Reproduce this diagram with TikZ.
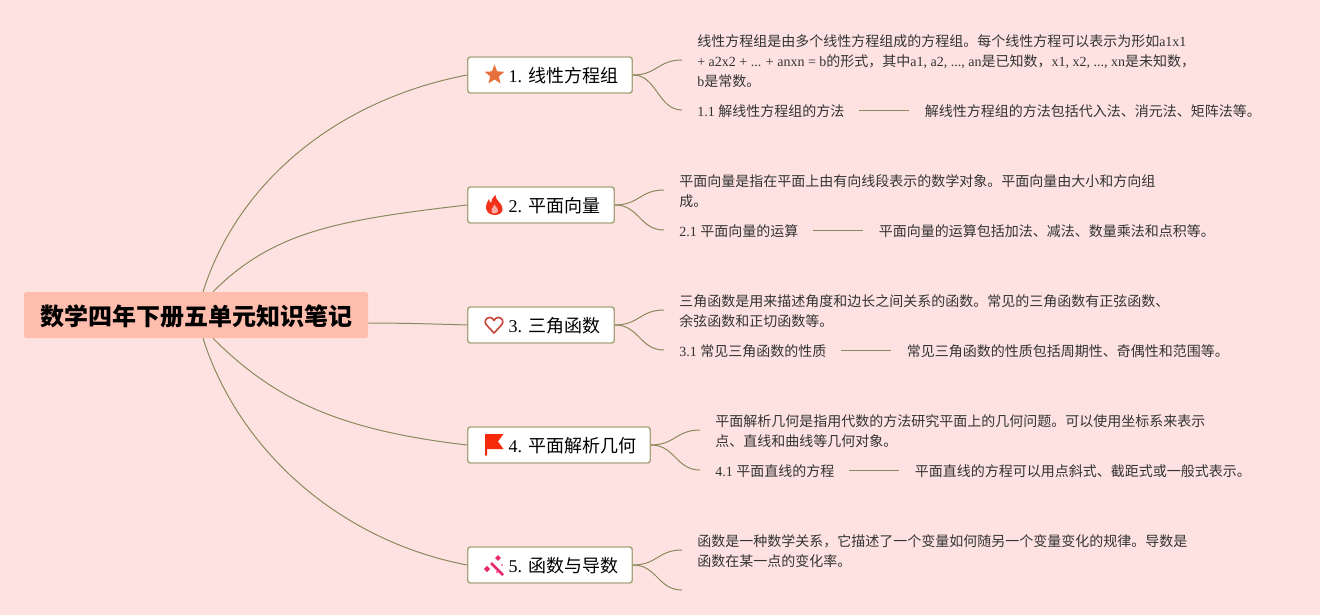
\documentclass[tikz,border=0pt]{standalone}
\usepackage{fontspec}
\usepackage{xcolor}
\usetikzlibrary{positioning,shapes.geometric}
\setmainfont{Noto Sans CJK SC}
\newfontfamily\latinfont{Liberation Serif}
\newcommand{\en}[1]{{\latinfont #1}}
\definecolor{bgpink}{HTML}{FEE2E2}
\definecolor{rootfill}{HTML}{FFBDAD}
\definecolor{olive}{HTML}{A8A47E}
\definecolor{linkclr}{HTML}{8A8A5C}
\definecolor{txtclr}{HTML}{333333}
\definecolor{starclr}{HTML}{E8703A}
\definecolor{flameclr}{HTML}{F5301A}
\definecolor{heartclr}{HTML}{C8453A}
\definecolor{flagclr}{HTML}{F52A0A}
\definecolor{wandclr}{HTML}{E8286E}

\tikzset{
  rootbox/.style={fill=rootfill, rounded corners=2pt, inner xsep=12pt, minimum height=34.5pt, text height=16pt, text depth=0.8pt, font=\fontsize{18}{22}\selectfont\bfseries, text=black},
  topicbox/.style={draw=olive, fill=white, line width=1.1pt, rounded corners=2pt, anchor=west, inner xsep=10.5pt, minimum height=27pt, text height=12pt, text depth=0.3pt, font=\fontsize{13.5}{16}\selectfont, text=black},
  detail/.style={anchor=west, align=left, inner xsep=11.25pt, inner ysep=0pt, font=\fontsize{10.5}{15}\selectfont, text=txtclr},
  link/.style={draw=linkclr, line width=0.75pt},
}
\newcommand{\iconspace}{\hspace*{20.25pt}}

\begin{document}
\begin{tikzpicture}[x=0.75pt,y=-0.75pt]
  \fill[bgpink] (0,0) rectangle (1320,615);
  \useasboundingbox (0,0) rectangle (1320,615);

  \node[rootbox] (root) at (196,315) {数学四年下册五单元知识笔记};

  % topics
  \node[topicbox] (topicA) at (467,75) {\iconspace\en{1. }线性方程组};
  \node[topicbox] (topicB) at (467,205) {\iconspace\en{2. }平面向量};
  \node[topicbox] (topicC) at (467,325) {\iconspace\en{3. }三角函数};
  \node[topicbox] (topicD) at (467,445) {\iconspace\en{4. }平面解析几何};
  \node[topicbox] (topicE) at (467,565) {\iconspace\en{5. }函数与导数};

  % root links
  \draw[link] ([xshift=5.25pt]root.north) .. controls +(35,-110) and +(-130,25) .. (topicA.west);
  \draw[link] ([xshift=12.75pt]root.north) .. controls +(60,-60) and +(-130,15) .. (topicB.west);
  \draw[link] ([yshift=-6pt]root.east) .. controls +(30,0) and +(-30,-1) .. (topicC.west);
  \draw[link] ([xshift=12.75pt]root.south) .. controls +(60,60) and +(-130,-15) .. (topicD.west);
  \draw[link] ([xshift=5.25pt]root.south) .. controls +(35,110) and +(-130,-25) .. (topicE.west);

  % details
  \node[detail] (noteA) at (682,61) {线性方程组是由多个线性方程组成的方程组。每个线性方程可以表示为形如\en{a1x1}\\\en{+ a2x2 + ... + anxn = b}的形式，其中\en{a1, a2, ..., an}是已知数，\en{x1, x2, ..., xn}是未知数，\\\en{b}是常数。};
  \node[detail] (noteB) at (664,191) {平面向量是指在平面上由有向线段表示的数学对象。平面向量由大小和方向组\\成。};
  \node[detail] (noteC) at (664,311) {三角函数是用来描述角度和边长之间关系的函数。常见的三角函数有正弦函数、\\余弦函数和正切函数等。};
  \node[detail] (noteD) at (700,431) {平面解析几何是指用代数的方法研究平面上的几何问题。可以使用坐标系来表示\\点、直线和曲线等几何对象。};
  \node[detail] (noteE) at (682,551) {函数是一种数学关系，它描述了一个变量如何随另一个变量变化的规律。导数是\\函数在某一点的变化率。};
  \coordinate (endE) at (682,591);

  \node[detail] (subA) at (682,111) {\en{1.1 }解线性方程组的方法};
  \node[detail, right=50 of subA] (infoA) {解线性方程组的方法包括代入法、消元法、矩阵法等。};
  \node[detail] (subB) at (664,231) {\en{2.1 }平面向量的运算};
  \node[detail, right=50 of subB] (infoB) {平面向量的运算包括加法、减法、数量乘法和点积等。};
  \node[detail] (subC) at (664,351) {\en{3.1 }常见三角函数的性质};
  \node[detail, right=50 of subC] (infoC) {常见三角函数的性质包括周期性、奇偶性和范围等。};
  \node[detail] (subD) at (700,471) {\en{4.1 }平面直线的方程};
  \node[detail, right=50 of subD] (infoD) {平面直线的方程可以用点斜式、截距式或一般式表示。};

  % topic links
  \foreach \t/\n/\s in {topicA/noteA/subA.west, topicB/noteB/subB.west, topicC/noteC/subC.west, topicD/noteD/subD.west, topicE/noteE/endE}{
    \draw[link] (\t.east) .. controls +(24,0) and +(-24,0) .. ([yshift=0.75pt]\n.west);
    \draw[link] (\t.east) .. controls +(24,0) and +(-24,0) .. ([yshift=0.75pt]\s);
  }
  \foreach \s/\i in {subA/infoA, subB/infoB, subC/infoC, subD/infoD}{
    \draw[link] ([yshift=0.75pt,xshift=-0.75pt]\s.east) -- ([yshift=0.75pt,xshift=-0.75pt]\i.west);
  }

  % icons
  \node[star, star points=5, star point ratio=2.3, fill=starclr, minimum size=15.5pt, inner sep=0pt] (iconA) at (494.5,75) {};
  \fill[flameclr] (494.5,215) .. controls (488,215) and (485.5,210) .. (486,206) .. controls (486.5,203) and (488,201) .. (489,199) .. controls (489.5,201) and (490,202.5) .. (491,203) .. controls (491,200) and (493,197) .. (495.5,195) .. controls (495.5,198) and (497,200) .. (499,202) .. controls (502,205) and (503,208) .. (502.5,210) .. controls (502,213) and (499,215) .. (494.5,215) -- cycle;
  \fill[bgpink!70!flameclr] (494.5,213.5) .. controls (491.5,213.5) and (490.5,211) .. (491.5,209) .. controls (492.5,207.5) and (494,206.5) .. (494.5,204.5) .. controls (495.5,206.5) and (497.5,208) .. (498,210) .. controls (498.5,212) and (497,213.5) .. (494.5,213.5) -- cycle;
  \draw[heartclr, line width=1.2pt, line join=round] (494,333) -- (486.5,325) .. controls (483.5,321.5) and (486,317.5) .. (489.5,317.5) .. controls (491.5,317.5) and (493,318.5) .. (494,320.5) .. controls (495,318.5) and (496.5,317.5) .. (498.5,317.5) .. controls (502,317.5) and (504.5,321.5) .. (501.5,325) -- cycle;
  \fill[flagclr] (485,434) -- (503.5,434) -- (498,441.5) -- (503.5,449) -- (487,449) -- (487,455.5) -- (485,455.5) -- cycle;
  \draw[wandclr, line width=1.9pt] (491,563) -- (503,575);
  \foreach \x/\y/\r in {498/558/2.8, 487/569/3.2, 497/572/1, 502/565/0.9}{
    \fill[wandclr] (\x-\r,\y) -- (\x,\y-\r) -- (\x+\r,\y) -- (\x,\y+\r) -- cycle;
  }
\end{tikzpicture}
\end{document}
